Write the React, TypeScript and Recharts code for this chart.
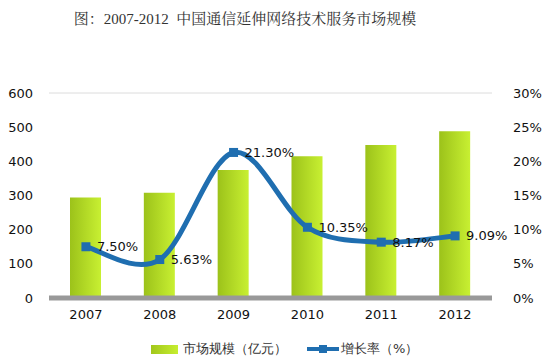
import React from 'react';
import { ComposedChart, Bar, Line, XAxis, YAxis, CartesianGrid, Legend, LabelList } from 'recharts';

const years = ['2007', '2008', '2009', '2010', '2011', '2012'];
const marketSize = [294, 308, 375, 415, 448, 488];
const growthRate = [7.5, 5.63, 21.3, 10.35, 8.17, 9.09];
const leftTicks = [0, 100, 200, 300, 400, 500, 600];
const rightTicks = [0, 5, 10, 15, 20, 25, 30];

const data = years.map((year, i) => ({ year, size: marketSize[i], rate: growthRate[i] }));

const LINE_COLOR = '#1f6eb0';
const FONT = '"DejaVu Sans", Verdana, sans-serif';

// Catmull-Rom style smoothing, close to the spreadsheet "smoothed line"
const smoothCurve: any = (context: any) => {
  let pts: [number, number][] = [];
  return {
    areaStart() {},
    areaEnd() {},
    lineStart() { pts = []; },
    point(x: number, y: number) { pts.push([+x, +y]); },
    lineEnd() {
      if (!pts.length) return;
      context.moveTo(pts[0][0], pts[0][1]);
      for (let i = 0; i < pts.length - 1; i++) {
        const p0 = pts[i - 1] || pts[i];
        const p1 = pts[i];
        const p2 = pts[i + 1];
        const p3 = pts[i + 2] || p2;
        const c1x = p1[0] + (p2[0] - p0[0]) / 6;
        const c1y = p1[1] + (p2[1] - p0[1]) / 6;
        const c2x = p2[0] - (p3[0] - p1[0]) / 6;
        const c2y = p2[1] - (p3[1] - p1[1]) / 6;
        context.bezierCurveTo(c1x, c1y, c2x, c2y, p2[0], p2[1]);
      }
    },
  };
};

const SquareDot = (props: any) => {
  const { cx, cy } = props;
  if (cx == null || cy == null) return null;
  return <rect x={cx - 4.5} y={cy - 4.5} width={9} height={9} fill={LINE_COLOR} />;
};

const RateLabel = (props: any) => {
  const { x, y, value } = props;
  return (
    <text x={x + 11} y={y} dy="0.35em" fontSize={13} fontFamily={FONT} fill="#111">
      {`${Number(value).toFixed(2)}%`}
    </text>
  );
};

const CustomLegend = () => (
  <div style={{ display: 'flex', alignItems: 'center', fontSize: 13, color: '#333', fontFamily: FONT, paddingLeft: 151, paddingTop: 12 }}>
    <span style={{ display: 'inline-block', width: 27, height: 9, background: 'linear-gradient(to right, #a2c71b, #c6ee30)', marginRight: 5 }} />
    <span style={{ marginRight: 20 }}>市场规模（亿元）</span>
    <svg width={32} height={10} style={{ marginRight: 2 }}>
      <line x1={0} y1={5} x2={32} y2={5} stroke={LINE_COLOR} strokeWidth={4} />
      <rect x={12} y={1} width={8} height={8} fill={LINE_COLOR} />
    </svg>
    <span>增长率（%）</span>
  </div>
);

export default function App() {
  return (
    <div style={{ position: 'relative', width: 551, height: 363, background: '#fff' }}>
      <style>{'body{margin:0}'}</style>
      <div style={{ position: 'absolute', top: 7, left: 0, width: 490, textAlign: 'center', fontFamily: '"Liberation Serif", "Noto Serif CJK SC", serif', fontSize: 15, color: '#333' }}>
        图：2007-2012&nbsp;&nbsp;中国通信延伸网络技术服务市场规模
      </div>
      <ComposedChart width={551} height={363} data={data} margin={{ top: 93, right: 0, bottom: 0, left: 0 }}>
        <defs>
          <linearGradient id="barGrad" x1="0" y1="0" x2="1" y2="0">
            <stop offset="0%" stopColor="#9cc21a" />
            <stop offset="100%" stopColor="#c8f032" />
          </linearGradient>
        </defs>
        <CartesianGrid vertical={false} stroke="#dcdcdc" />
        <XAxis
          dataKey="year"
          axisLine={{ stroke: '#999', strokeWidth: 5 }}
          tickLine={false}
          height={30}
          tick={{ fill: '#111', fontSize: 13, fontFamily: FONT }}
          tickMargin={6}
        />
        <YAxis
          yAxisId="left"
          domain={[0, 600]}
          ticks={leftTicks}
          width={49}
          axisLine={false}
          tickLine={false}
          tick={{ fill: '#111', fontSize: 13, fontFamily: FONT }}
          tickMargin={10}
        />
        <YAxis
          yAxisId="right"
          orientation="right"
          domain={[0, 30]}
          ticks={rightTicks}
          width={59}
          axisLine={false}
          tickLine={false}
          tickFormatter={(v: number) => `${v}%`}
          tick={{ fill: '#111', fontSize: 13, fontFamily: FONT }}
          tickMargin={15}
        />
        <Legend verticalAlign="bottom" height={35} content={<CustomLegend />} />
        <Bar yAxisId="left" dataKey="size" fill="url(#barGrad)" barSize={31} isAnimationActive={false} />
        <Line
          yAxisId="right"
          type={smoothCurve}
          dataKey="rate"
          stroke={LINE_COLOR}
          strokeWidth={5}
          dot={<SquareDot />}
          activeDot={false}
          isAnimationActive={false}
        >
          <LabelList dataKey="rate" content={<RateLabel />} />
        </Line>
      </ComposedChart>
    </div>
  );
}
